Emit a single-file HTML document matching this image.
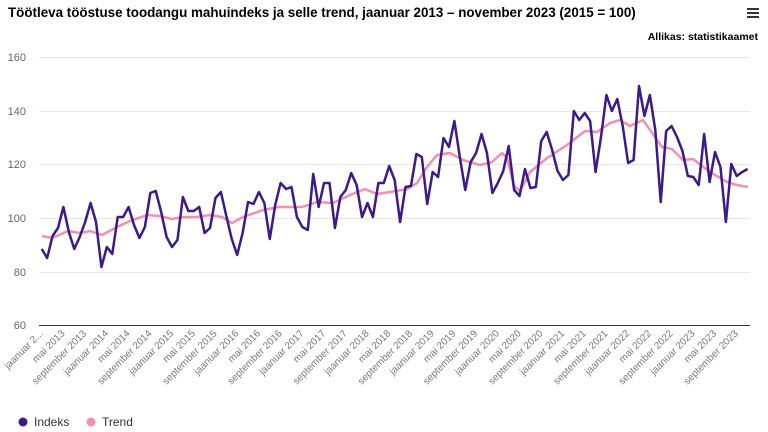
<!DOCTYPE html>
<html><head><meta charset="utf-8"><style>
body{margin:0;background:#fff;}
svg{display:block;font-family:"Liberation Sans",sans-serif;}
.yl{font-size:11px;fill:#666;text-anchor:end}
.xl{font-size:10px;fill:#777;text-anchor:end}
</style></head><body>
<svg width="768" height="432" viewBox="0 0 768 432">
<text x="8" y="17" font-size="13.4" font-weight="bold" fill="#000">Töötleva tööstuse toodangu mahuindeks ja selle trend, jaanuar 2013 – november 2023 (2015 = 100)</text>
<g fill="#333"><rect x="747" y="8" width="12" height="2"/><rect x="747" y="12" width="12" height="2"/><rect x="747" y="16" width="12" height="2"/></g>
<text x="758" y="40" font-size="10.5" font-weight="bold" fill="#000" text-anchor="end">Allikas: statistikaamet</text>
<g stroke="#e6e6e6" stroke-width="1">
<line x1="39" x2="750" y1="57.5" y2="57.5"/><line x1="39" x2="750" y1="111.5" y2="111.5"/><line x1="39" x2="750" y1="164.5" y2="164.5"/><line x1="39" x2="750" y1="218.5" y2="218.5"/><line x1="39" x2="750" y1="272.5" y2="272.5"/>
</g>
<line x1="39" x2="750" y1="325.5" y2="325.5" stroke="#333" stroke-width="1"/>
<text class="yl" x="26" y="61">160</text><text class="yl" x="26" y="115">140</text><text class="yl" x="26" y="168">120</text><text class="yl" x="26" y="222">100</text><text class="yl" x="26" y="276">80</text><text class="yl" x="26" y="329">60</text>
<polyline fill="none" stroke="#f48fb1" stroke-width="2.5" stroke-linejoin="round" points="42,236 52,238 68,231 80,233 90,231 102,235 117,227 130,221 147,215 160,216 172,219 183,217 197,217 210,215 222,217 232,223 243,217 263,210 279,207 302,207 317,202 333,203 350,195 365,189 377,194 390,192 407,189 417,183 427,167 437,155 450,153 463,160 480,165 492,162 502,153 507,158 514,186 520,191 530,172 547,158 567,145 585,131 597,132 610,123 620,120 630,126 643,120 662,147 672,149 683,160 693,159 710,172 727,182 737,185 748,187"/>
<g transform="translate(41.7,0) scale(5.43,1)">
<polyline fill="none" stroke="#3a1a8c" stroke-width="2.5" stroke-linejoin="round" vector-effect="non-scaling-stroke" points="0,249 1,258 2,236 3,228 4,207 5,232 6,249 7,237 8,222 9,203 10,222 11,267 12,247 13,254 14,217 15,217 16,207 17,225 18,238 19,227 20,193 21,191 22,212 23,237 24,247 25,240 26,197 27,211 28,211 29,207 30,233 31,228 32,198 33,192 34,216 35,239 36,255 37,233 38,202 39,204 40,192 41,203 42,239 43,205 44,183 45,189 46,187 47,217 48,227 49,230 50,174 51,207 52,183 53,183 54,228 55,197 56,190 57,173 58,185 59,217 60,203 61,217 62,183 63,183 64,166 65,180 66,222 67,187 68,186 69,154 70,157 71,204 72,172 73,177 74,138 75,147 76,121 77,157 78,190 79,162 80,153 81,134 82,153 83,193 84,183 85,171 86,146 87,190 88,196 89,169 90,188 91,187 92,141 93,132 94,150 95,171 96,180 97,175 98,111 99,120 100,113 101,121 102,172 103,137 104,95 105,111 106,99 107,126 108,163 109,160 110,86 111,116 112,95 113,130 114,202 115,131 116,126 117,137 118,151 119,176 120,177 121,185 122,134 123,182 124,152 125,167 126,222 127,164 128,176 129,172 130,169"/>
</g>
<g class="xl">
<text class="xl" transform="translate(43.7,334) rotate(-45)">jaanuar 2...</text>
<text class="xl" transform="translate(65.4,334) rotate(-45)">mai 2013</text>
<text class="xl" transform="translate(87.1,334) rotate(-45)">september 2013</text>
<text class="xl" transform="translate(108.9,334) rotate(-45)">jaanuar 2014</text>
<text class="xl" transform="translate(130.6,334) rotate(-45)">mai 2014</text>
<text class="xl" transform="translate(152.3,334) rotate(-45)">september 2014</text>
<text class="xl" transform="translate(174,334) rotate(-45)">jaanuar 2015</text>
<text class="xl" transform="translate(195.7,334) rotate(-45)">mai 2015</text>
<text class="xl" transform="translate(217.5,334) rotate(-45)">september 2015</text>
<text class="xl" transform="translate(239.2,334) rotate(-45)">jaanuar 2016</text>
<text class="xl" transform="translate(260.9,334) rotate(-45)">mai 2016</text>
<text class="xl" transform="translate(282.6,334) rotate(-45)">september 2016</text>
<text class="xl" transform="translate(304.3,334) rotate(-45)">jaanuar 2017</text>
<text class="xl" transform="translate(326.1,334) rotate(-45)">mai 2017</text>
<text class="xl" transform="translate(347.8,334) rotate(-45)">september 2017</text>
<text class="xl" transform="translate(369.5,334) rotate(-45)">jaanuar 2018</text>
<text class="xl" transform="translate(391.2,334) rotate(-45)">mai 2018</text>
<text class="xl" transform="translate(412.9,334) rotate(-45)">september 2018</text>
<text class="xl" transform="translate(434.7,334) rotate(-45)">jaanuar 2019</text>
<text class="xl" transform="translate(456.4,334) rotate(-45)">mai 2019</text>
<text class="xl" transform="translate(478.1,334) rotate(-45)">september 2019</text>
<text class="xl" transform="translate(499.8,334) rotate(-45)">jaanuar 2020</text>
<text class="xl" transform="translate(521.5,334) rotate(-45)">mai 2020</text>
<text class="xl" transform="translate(543.3,334) rotate(-45)">september 2020</text>
<text class="xl" transform="translate(565,334) rotate(-45)">jaanuar 2021</text>
<text class="xl" transform="translate(586.7,334) rotate(-45)">mai 2021</text>
<text class="xl" transform="translate(608.4,334) rotate(-45)">september 2021</text>
<text class="xl" transform="translate(630.1,334) rotate(-45)">jaanuar 2022</text>
<text class="xl" transform="translate(651.9,334) rotate(-45)">mai 2022</text>
<text class="xl" transform="translate(673.6,334) rotate(-45)">september 2022</text>
<text class="xl" transform="translate(695.3,334) rotate(-45)">jaanuar 2023</text>
<text class="xl" transform="translate(717,334) rotate(-45)">mai 2023</text>
<text class="xl" transform="translate(738.7,334) rotate(-45)">september 2023</text>
</g>
<circle cx="23" cy="422" r="4.5" fill="#3a1a8c"/>
<text x="34" y="426" font-size="12" fill="#333">Indeks</text>
<circle cx="91" cy="422" r="4.5" fill="#f48fb1"/>
<text x="102" y="426" font-size="12" fill="#333">Trend</text>
</svg>
</body></html>
